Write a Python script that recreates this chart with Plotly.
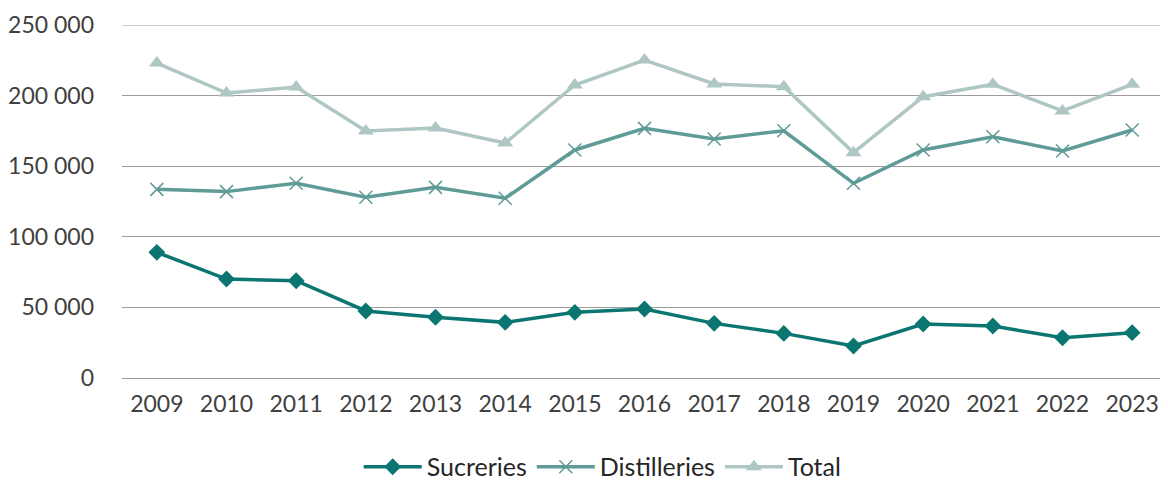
import plotly.graph_objects as go

years = [str(y) for y in range(2009, 2024)]
sucreries = [89000, 70100, 68900, 47500, 43000, 39400, 46500, 48900, 38700, 31600, 22700, 38200, 36800, 28500, 32100]
distilleries = [133600, 132000, 137900, 128000, 135000, 127300, 161500, 176800, 169300, 175100, 137900, 161500, 170900, 160800, 175600]
total = [223000, 201800, 206100, 174900, 177000, 166400, 207500, 225200, 208200, 206300, 159600, 199200, 208000, 189100, 208000]

c_suc = "#0B7671"
c_dis = "#5F9B97"
c_tot = "#AFC7C4"
grid = "#9C9C9C"

fig = go.Figure()
fig.add_trace(go.Scatter(x=years, y=sucreries, name="Sucreries", mode="lines+markers",
                         line=dict(color=c_suc, width=3.5),
                         marker=dict(symbol="diamond", size=13, color=c_suc)))
fig.add_trace(go.Scatter(x=years, y=distilleries, name="Distilleries", mode="lines+markers",
                         line=dict(color=c_dis, width=3.5),
                         marker=dict(symbol="x-thin", size=13, color=c_dis,
                                     line=dict(color=c_dis, width=1.5))))
fig.add_trace(go.Scatter(x=years, y=total, name="Total", mode="lines+markers",
                         line=dict(color=c_tot, width=3.5),
                         marker=dict(symbol="triangle-up", size=14, color=c_tot)))

fig.add_shape(type="line", xref="paper", yref="y", x0=0, x1=1, y0=250000, y1=250000,
              line=dict(color=grid, width=1), layer="below")

fig.update_layout(
    width=1160, height=473,
    margin=dict(l=114, r=1, t=17, b=103, autoexpand=False),
    paper_bgcolor="white", plot_bgcolor="white",
    font=dict(family="Lato, Open Sans, sans-serif", size=23, color="#404040"),
    separators=", ",
    showlegend=True,
    legend=dict(orientation="h", x=0.46, xanchor="center", y=-0.252, yanchor="middle",
                font=dict(size=25, color="#262626"), itemwidth=58, maxheight=120,
                borderwidth=0, bgcolor="rgba(0,0,0,0)"),
    xaxis=dict(type="category", range=[-0.5, 14.5], showgrid=False, showline=False,
               ticks="", ticklabelstandoff=10, tickfont=dict(size=23, color="#404040")),
    yaxis=dict(range=[0, 250000], dtick=50000, tickformat=",d", showgrid=True,
               gridcolor=grid, gridwidth=1, zeroline=True, zerolinecolor=grid,
               zerolinewidth=1, showline=False, ticks="", ticklabelstandoff=27,
               tickfont=dict(size=23, color="#404040")),
)

fig.write_html("out.html")
